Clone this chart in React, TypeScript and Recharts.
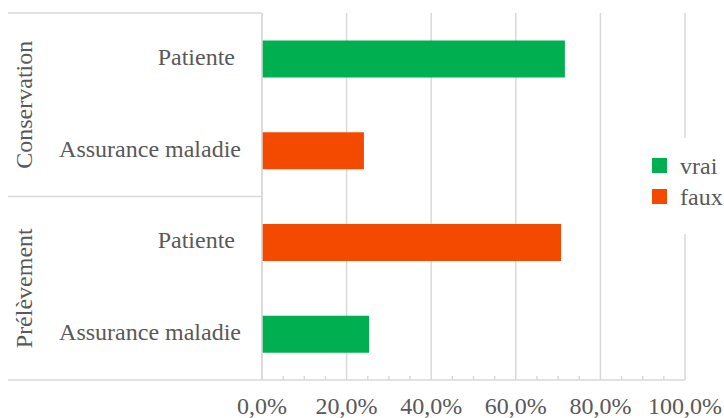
import React from "react";
import { Bar, BarChart, CartesianGrid, Legend, XAxis, YAxis } from "recharts";

// rows, top to bottom
const groups = ["Conservation", "Conservation", "Prélèvement", "Prélèvement"];
const labels = ["Patiente ", "Assurance maladie", "Patiente ", "Assurance maladie"];
const vrai = [71.6, null, null, 25.3];
const faux = [null, 24.1, 70.7, null];
const seriesNames = ["vrai", "faux"];

const majorTicks = [0, 20, 40, 60, 80, 100];
const minorTicks = [0, 5, 10, 15, 20, 25, 30, 35, 40, 45, 50, 55, 60, 65, 70, 75, 80, 85, 90, 95, 100];

const GREEN = "#00B050";
const RED = "#F34A00";
const GRID = "#d9d9d9";
const TEXT = "#595959";
const FONT = "'Liberation Serif', Tinos, 'Times New Roman', serif";
const FS = 24;

const W = 724;
const H = 418;
const TOP = 13;
const AXIS_H = 38;
const STEP = (H - TOP - AXIS_H) / labels.length;

const rows = labels.map((label, i) => ({
    key: `${groups[i]}|${label}|${i}`,
    vrai: vrai[i],
    faux: faux[i],
}));

const fmt = (v: number) => `${v.toFixed(1).replace(".", ",")}%`;

const XTick = (props: any) => {
    const { x, y, payload } = props;
    const v = payload.value;
    if (v % 20 !== 0) {
        return <line x1={x} x2={x} y1={y - 4} y2={y} stroke={GRID} strokeWidth={1.5} />;
    }
    return (
        <text x={x} y={y + 34} textAnchor="middle" style={{ fontFamily: FONT, fontSize: FS }} fill={TEXT}>
            {fmt(v)}
        </text>
    );
};

// category labels plus the outer group labels and separators
const YTick = (props: any) => {
    const { x, y, index } = props;
    const g = groups[index];
    const first = index === 0 || groups[index - 1] !== g;
    const last = index === groups.length - 1 || groups[index + 1] !== g;
    const size = groups.filter((n) => n === g).length;
    const gy = y + ((size - 1) * STEP) / 2;
    return (
        <g>
            <text
                x={x - 21}
                y={y + 6}
                textAnchor="end"
                fill={TEXT}
                style={{ whiteSpace: "pre", fontFamily: FONT, fontSize: FS }}
            >
                {labels[index]}
            </text>
            {index === 0 && (
                <line x1={8} x2={x} y1={y - STEP / 2} y2={y - STEP / 2} stroke={GRID} strokeWidth={1.5} />
            )}
            {last && (
                <line x1={8} x2={x} y1={y + STEP / 2} y2={y + STEP / 2} stroke={GRID} strokeWidth={1.5} />
            )}
            {first && (
                <text
                    x={32}
                    y={gy}
                    transform={`rotate(-90 32 ${gy})`}
                    textAnchor="middle"
                    fill={TEXT}
                    style={{ fontFamily: FONT, fontSize: FS }}
                >
                    {g}
                </text>
            )}
        </g>
    );
};

const renderLegend = (props: any) => {
    const items = seriesNames
        .map((n) => props.payload.find((p: any) => p.value === n))
        .filter(Boolean);
    return (
        <div style={{ background: "#fff", width: 79, height: 96, paddingTop: 12, boxSizing: "border-box" }}>
            {items.map((entry: any, i: number) => (
                <div key={`item-${i}`} style={{ display: "flex", alignItems: "center", height: 31 }}>
                    <span
                        style={{
                            display: "inline-block",
                            width: 15,
                            height: 15,
                            backgroundColor: entry.color,
                            marginLeft: 7,
                            marginRight: 13,
                        }}
                    />
                    <span style={{ fontFamily: FONT, fontSize: FS, color: TEXT, lineHeight: "24px" }}>{entry.value}</span>
                </div>
            ))}
        </div>
    );
};

const App = () => {
    return (
        <div style={{ position: "absolute", left: 0, top: 0 }}>
            <BarChart
                width={W}
                height={H}
                data={rows}
                layout="vertical"
                margin={{ top: TOP, right: 39, bottom: 0, left: 0 }}
                barCategoryGap="30%"
            >
                <CartesianGrid horizontal={false} verticalValues={majorTicks} stroke={GRID} strokeWidth={1.5} />
                <XAxis
                    type="number"
                    domain={[0, 100]}
                    ticks={minorTicks}
                    interval={0}
                    tickLine={false}
                    tickSize={0}
                    tickMargin={0}
                    height={AXIS_H}
                    axisLine={{ stroke: GRID, strokeWidth: 1.5 }}
                    tick={<XTick />}
                />
                <YAxis
                    type="category"
                    dataKey="key"
                    width={262}
                    interval={0}
                    tickLine={false}
                    tickSize={0}
                    tickMargin={0}
                    axisLine={{ stroke: GRID, strokeWidth: 1.5 }}
                    tick={<YTick />}
                />
                <Legend
                    layout="vertical"
                    align="center"
                    verticalAlign="middle"
                    content={renderLegend}
                    wrapperStyle={{ left: 645, top: 138, width: 79, height: 96 }}
                />
                <Bar dataKey="vrai" name="vrai" stackId="a" fill={GREEN} isAnimationActive={false} />
                <Bar dataKey="faux" name="faux" stackId="a" fill={RED} isAnimationActive={false} />
            </BarChart>
        </div>
    );
};

export default App;
